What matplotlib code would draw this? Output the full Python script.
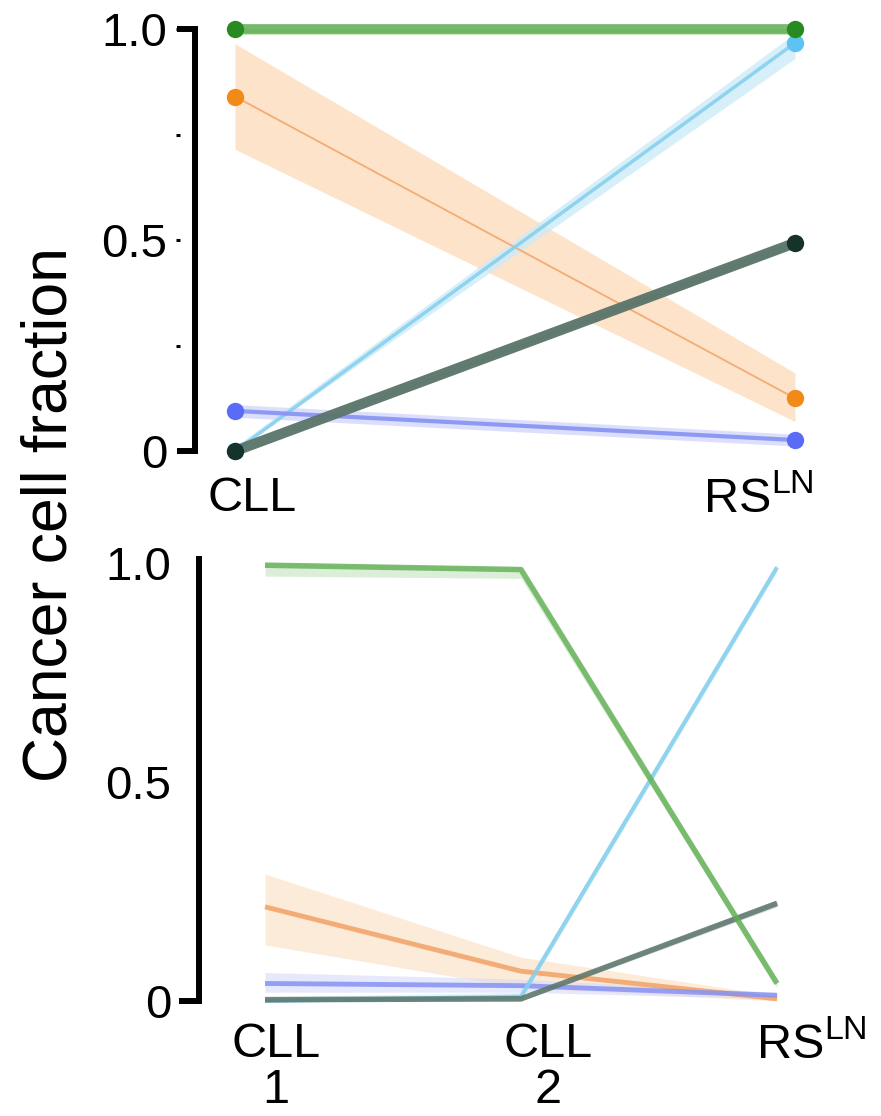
import matplotlib
matplotlib.use('Agg')
import matplotlib.pyplot as plt
import matplotlib.transforms as mtransforms

plt.rcParams['font.family'] = ['Liberation Sans', 'DejaVu Sans']
plt.rcParams['mathtext.fontset'] = 'custom'
plt.rcParams['mathtext.rm'] = 'Liberation Sans'

# ---------------- data ----------------
top_stages = ['CLL', r'RS$^{\mathregular{LN}}$']
top_green = [1.0, 1.0]
top_green_lo = [0.985, 0.985]
top_green_hi = [1.0, 1.0]
top_orange = [0.84, 0.125]
top_orange_lo = [0.715, 0.07]
top_orange_hi = [0.965, 0.185]
top_lightblue = [0.0, 0.967]
top_lightblue_lo = [0.0, 0.93]
top_lightblue_hi = [0.01, 0.99]
top_blue = [0.095, 0.026]
top_blue_lo = [0.08, 0.012]
top_blue_hi = [0.11, 0.04]
top_dark = [0.0, 0.493]
top_dark_lo = [0.0, 0.485]
top_dark_hi = [0.0, 0.5]

bot_stages = ['CLL\n1', 'CLL\n2', r'RS$^{\mathregular{LN}}$']
bot_green = [0.995, 0.985, 0.04]
bot_green_lo = [0.97, 0.965, 0.03]
bot_green_hi = [1.0, 0.99, 0.05]
bot_lightblue = [0.0, 0.01, 0.99]
bot_lightblue_lo = [0.0, 0.0, 0.98]
bot_lightblue_hi = [0.01, 0.02, 1.0]
bot_orange = [0.215, 0.068, 0.005]
bot_orange_lo = [0.128, 0.03, 0.0]
bot_orange_hi = [0.29, 0.1, 0.012]
bot_blue = [0.04, 0.035, 0.013]
bot_blue_lo = [0.02, 0.02, 0.005]
bot_blue_hi = [0.065, 0.05, 0.02]
bot_dark = [0.003, 0.005, 0.223]
bot_dark_lo = [0.0, 0.0, 0.215]
bot_dark_hi = [0.006, 0.01, 0.23]

yticks = [0, 0.5, 1.0]
yticklabels = ['0', '0.5', '1.0']

# colours
c_green_dot, c_green_line, c_green_band = '#2a8a22', '#5fae52', '#bfe2b8'
c_orange_dot, c_orange_line, c_orange_band = '#f28a18', '#f2a66a', '#fddcbc'
c_lb_dot, c_lb_line, c_lb_band = '#5cc3f2', '#86d0ee', '#cdebf8'
c_blue_dot, c_blue_line, c_blue_band = '#5a6cf5', '#8692f3', '#d3d8fb'
c_dark_dot, c_dark_line, c_dark_band = '#15332a', '#5a7469', '#b8c6c0'

W, H = 881, 1116
fig = plt.figure(figsize=(W / 100, H / 100), dpi=100)

# ---------------- top panel ----------------
ax1 = fig.add_axes([195 / W, 1 - 451 / H, (829 - 195) / W, (451 - 29) / H])
xt = list(range(len(top_stages)))
series_top = [
    (top_orange, top_orange_lo, top_orange_hi, c_orange_dot, c_orange_line, c_orange_band, 1.3, 0.9),
    (top_lightblue, top_lightblue_lo, top_lightblue_hi, c_lb_dot, c_lb_line, c_lb_band, 2.5, 0.9),
    (top_blue, top_blue_lo, top_blue_hi, c_blue_dot, c_blue_line, c_blue_band, 3.0, 0.9),
    (top_dark, top_dark_lo, top_dark_hi, c_dark_dot, c_dark_line, c_dark_band, 7.5, 0.95),
    (top_green, top_green_lo, top_green_hi, c_green_dot, c_green_line, c_green_band, 7.0, 0.85),
]
for m, lo, hi, cd, cl, cb, lw, a in series_top:
    ax1.fill_between(xt, lo, hi, color=cb, alpha=0.8, lw=0, clip_on=False, zorder=1)
for m, lo, hi, cd, cl, cb, lw, a in series_top:
    ax1.plot(xt, m, color=cl, lw=lw, alpha=a, solid_capstyle='butt', clip_on=False, zorder=2)
for m, lo, hi, cd, cl, cb, lw, a in series_top:
    ax1.plot(xt, m, 'o', color=cd, ms=12.5, mec='none', clip_on=False, zorder=3)

ax1.set_xlim(-40 / 560, 1 + 34 / 560)
ax1.set_ylim(0, 1)

# ---------------- bottom panel ----------------
ax2 = fig.add_axes([199 / W, 1 - 1001 / H, (830 - 199) / W, 1.01 * 438 / H])
xb = list(range(len(bot_stages)))
series_bot = [
    (bot_orange, bot_orange_lo, bot_orange_hi, c_orange_line, c_orange_band, 3.5, 0.9),
    (bot_blue, bot_blue_lo, bot_blue_hi, c_blue_line, c_blue_band, 3.5, 0.85),
    (bot_lightblue, bot_lightblue_lo, bot_lightblue_hi, c_lb_line, c_lb_band, 3.0, 0.9),
    (bot_dark, bot_dark_lo, bot_dark_hi, c_dark_line, c_dark_band, 4.0, 0.85),
    (bot_green, bot_green_lo, bot_green_hi, c_green_line, c_green_band, 4.0, 0.8),
]
for m, lo, hi, cl, cb, lw, a in series_bot:
    ax2.fill_between(xb, lo, hi, color=cb, alpha=0.55, lw=0, clip_on=False, zorder=1)
for m, lo, hi, cl, cb, lw, a in series_bot:
    ax2.plot(xb, m, color=cl, lw=lw, alpha=a, solid_capstyle='butt', clip_on=False, zorder=2)

ax2.set_xlim(-66 / 256, 2 + 53 / 256)
ax2.set_ylim(0, 1.01)

# ---------------- axes styling ----------------
for ax, stages, offsets, ticklen, visible, xpad in [
    (ax1, top_stages, [17, -37], 13, [True, False, True], 18),
    (ax2, bot_stages, [11, 27, 34], 14.4, [True, False, False], 15),
]:
    for s in ['top', 'right', 'bottom']:
        ax.spines[s].set_visible(False)
    ax.spines['left'].set_linewidth(4.3)
    ax.set_yticks(yticks)
    ax.set_yticklabels(yticklabels)
    ax.tick_params(axis='y', length=ticklen, width=4.3, pad=20 - ticklen, labelsize=34)
    for t, v in zip(ax.yaxis.get_major_ticks(), visible):
        t.tick1line.set_visible(v)
    ax.set_xticks(list(range(len(stages))))
    ax.set_xticklabels(stages, linespacing=1.02)
    ax.tick_params(axis='x', length=0, pad=xpad, labelsize=35)
    for lab, dx in zip(ax.get_xticklabels(), offsets):
        lab.set_transform(lab.get_transform() + mtransforms.ScaledTranslation(dx / 100, 0, fig.dpi_scale_trans))

# small dashes next to the top-panel tick labels
sec = ax1.secondary_yaxis(-15 / 634)
sec.spines['left'].set_visible(False)
sec.set_yticks([0.25, 0.5, 0.75, 1.0])
sec.tick_params(axis='y', length=3, width=2.2, labelleft=False)

fig.text(50 / W, 1 - 515 / H, 'Cancer cell fraction', rotation=90,
         ha='center', va='center', fontsize=45)

fig.savefig('out.png', dpi=100)
